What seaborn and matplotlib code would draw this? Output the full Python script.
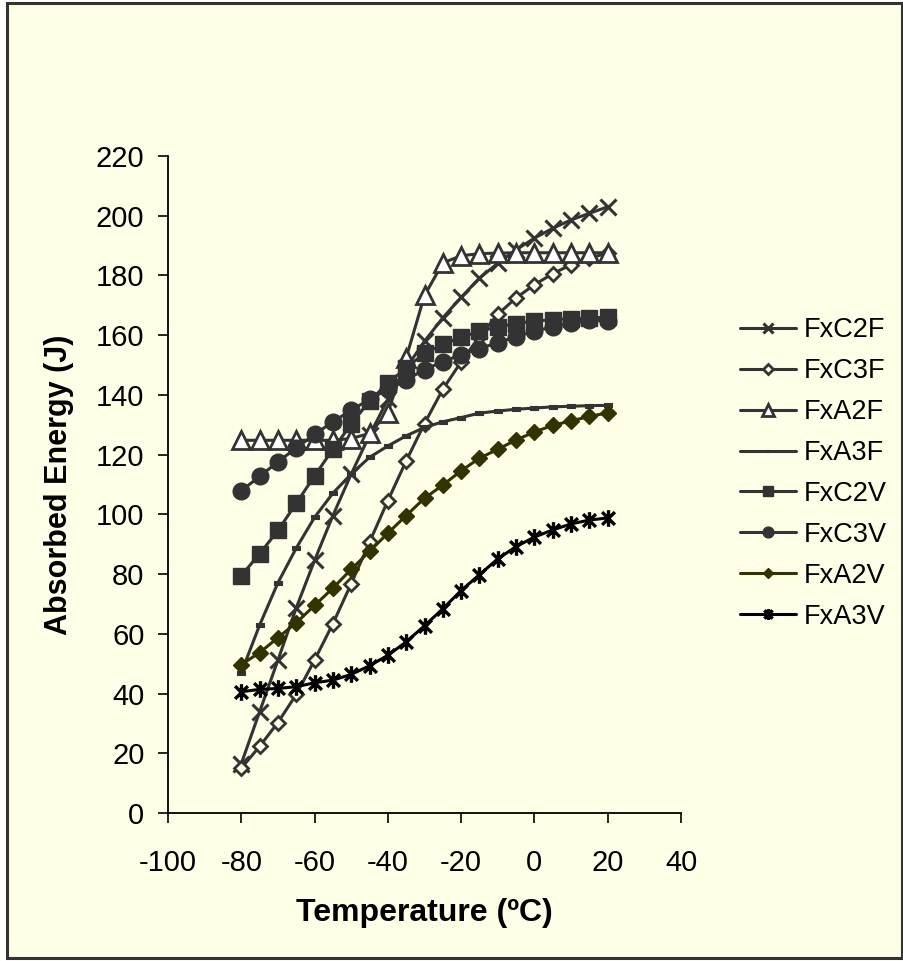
import matplotlib
matplotlib.use("Agg")
import matplotlib.pyplot as plt
from matplotlib.patches import Rectangle
from matplotlib.path import Path
import seaborn as sns

# ── Datos ───────────────────────────────────────────────
temps = [-80, -75, -70, -65, -60, -55, -50, -45, -40, -35, -30,
         -25, -20, -15, -10, -5, 0, 5, 10, 15, 20]

fxc2f = [16.5, 33.9, 51.2, 68.7, 84.6, 99.6, 113.5, 126.5, 138.5, 149.0, 158.0,
         165.8, 172.7, 179.1, 184.1, 188.6, 192.5, 195.8, 198.6, 200.8, 203.0]
fxc3f = [15.0, 22.3, 30.3, 39.7, 51.2, 63.4, 76.8, 90.7, 104.6, 117.9, 130.4,
         141.9, 151.1, 159.5, 167.0, 172.5, 176.9, 180.6, 183.6, 185.8, 187.5]
fxa2f = [124.8, 124.8, 124.8, 124.8, 124.8, 124.8, 125.4, 127.1, 134.1, 152.4, 173.3,
         184.2, 186.6, 187.3, 187.5, 187.6, 187.6, 187.6, 187.6, 187.6, 187.6]
fxa3f = [47.0, 62.9, 77.1, 88.7, 99.0, 107.1, 113.5, 119.1, 122.9, 126.3, 129.1,
         131.0, 132.4, 133.9, 134.6, 135.2, 135.6, 136.0, 136.2, 136.4, 136.5]
fxc2v = [79.5, 86.8, 94.6, 103.7, 112.9, 121.8, 130.2, 138.0, 143.9, 149.1, 153.9,
         156.9, 159.3, 161.3, 162.8, 163.9, 164.7, 165.2, 165.5, 165.7, 166.1]
fxc3v = [107.9, 112.7, 117.6, 122.2, 126.8, 131.0, 134.9, 138.5, 141.9, 145.0, 148.5,
         151.1, 153.5, 155.5, 157.5, 159.5, 161.3, 162.8, 164.1, 165.0, 164.8]
fxa2v = [49.7, 53.7, 58.7, 63.7, 69.5, 75.3, 81.6, 87.6, 93.7, 99.6, 105.4,
         109.8, 114.6, 118.8, 121.8, 124.9, 127.6, 129.8, 131.3, 132.8, 134.0]
fxa3v = [40.6, 41.4, 41.7, 42.3, 43.6, 44.5, 46.4, 49.3, 52.8, 57.3, 62.7,
         68.4, 74.5, 79.8, 85.1, 89.2, 92.4, 94.8, 96.8, 98.1, 98.8]

nombres = ["FxC2F", "FxC3F", "FxA2F", "FxA3F", "FxC2V", "FxC3V", "FxA2V", "FxA3V"]
series = [fxc2f, fxc3f, fxa2f, fxa3f, fxc2v, fxc3v, fxa2v, fxa3v]

# ── Estilo ──────────────────────────────────────────────
sns.set_theme(style="ticks")
plt.rcParams["font.family"] = ["Liberation Sans", "DejaVu Sans"]
plt.rcParams["axes.unicode_minus"] = False
plt.rcParams["text.color"] = "black"
plt.rcParams["axes.labelcolor"] = "black"

FONDO = "#FFFFE8"
GRIS = "#333333"

# marcadores: asterisco tipo Excel y guion corto
asterisco = Path([(-1, -1), (1, 1), (-1, 1), (1, -1), (0, -1.3), (0, 1.3)],
                 [Path.MOVETO, Path.LINETO, Path.MOVETO, Path.LINETO, Path.MOVETO, Path.LINETO])
guion = Path([(-1, -0.45), (1, -0.45), (1, 0.45), (-1, 0.45), (-1, -0.45)],
             [Path.MOVETO, Path.LINETO, Path.LINETO, Path.LINETO, Path.CLOSEPOLY])

estilos = [
    dict(color=GRIS, marker="x", markersize=12, markeredgewidth=2.2, mec=GRIS),
    dict(color=GRIS, marker="D", markersize=7.5, markeredgewidth=2, mec=GRIS, mfc=FONDO),
    dict(color=GRIS, marker="^", markersize=12.5, markeredgewidth=2, mec=GRIS, mfc="white"),
    dict(color=GRIS, marker=guion, markersize=5.5, markeredgewidth=0.8, mec=GRIS, mfc=GRIS),
    dict(color=GRIS, marker="s", markersize=11.5, markeredgewidth=1, mec=GRIS, mfc=GRIS),
    dict(color=GRIS, marker="o", markersize=12, markeredgewidth=1, mec=GRIS, mfc=GRIS),
    dict(color="#333300", marker="D", markersize=8.5, markeredgewidth=1, mec="#333300", mfc="#333300"),
    dict(color="black", marker=asterisco, markersize=12, markeredgewidth=2.4, mec="black"),
]

# ── Figura ──────────────────────────────────────────────
fig = plt.figure(figsize=(9.04, 9.61), dpi=100, facecolor="white")
marco = Rectangle((7 / 904, 3 / 961), 895 / 904, 955 / 961,
                  transform=fig.transFigure, facecolor=FONDO,
                  edgecolor=GRIS, linewidth=2.2)
marco.set_zorder(-10)
fig.patches.append(marco)

ax = fig.add_axes([168 / 904, 1 - 813 / 961, 513 / 904, 657 / 961])
ax.set_facecolor("none")
ax.set_zorder(1)

for nombre, valores, est in zip(nombres, series, estilos):
    sns.lineplot(x=temps, y=valores, ax=ax, label=nombre, linewidth=2.2,
                 clip_on=False, **est)

ax.set_xlim(-100, 40)
ax.set_ylim(0, 220)
ax.set_xticks(range(-100, 41, 20))
ax.set_yticks(range(0, 221, 20))
sns.despine(ax=ax)
for lado in ["left", "bottom"]:
    ax.spines[lado].set_color("black")
    ax.spines[lado].set_linewidth(1.3)
ax.tick_params(axis="both", direction="out", length=7, width=1.2,
               colors="black", labelsize=21)
ax.tick_params(axis="y", pad=10)
ax.tick_params(axis="x", pad=19)

ax.set_xlabel("Temperature (ºC)", fontsize=23, fontweight="bold", labelpad=15, color="black")
ax.set_ylabel("Absorbed Energy (J)", fontsize=22, fontweight="bold", labelpad=16, color="black")

handles, labels = ax.get_legend_handles_labels()
leyenda = ax.legend(handles, labels, loc="center left",
                    bbox_to_anchor=(740 / 904, 1 - 473.5 / 961),
                    bbox_transform=fig.transFigure, frameon=False, fontsize=19.5,
                    markerscale=0.65, handlelength=2.05, handletextpad=0.3,
                    labelspacing=0.55, borderpad=0, borderaxespad=0)
for t in leyenda.get_texts():
    t.set_color("black")

fig.savefig("out.png", dpi=100, facecolor="white")
